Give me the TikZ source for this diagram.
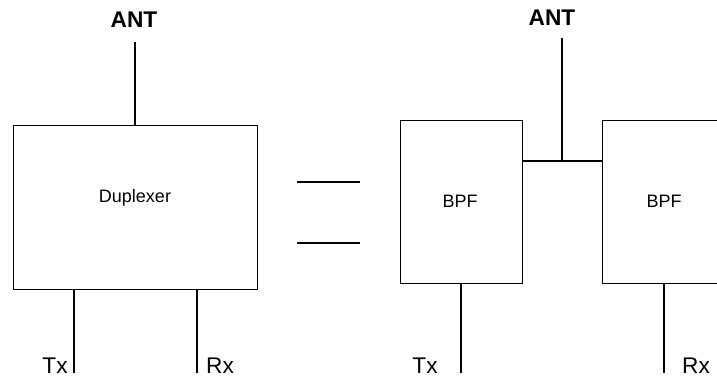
\documentclass[tikz,border=0pt]{standalone}
\usepackage{fontspec}
\setmainfont{Liberation Sans}
\begin{document}
\begin{tikzpicture}[x=0.75pt,y=-0.75pt,
  box/.style={draw, line width=0.7pt, inner sep=0pt},
  wire/.style={line width=1.1pt},
  lbl/.style={inner sep=0pt, anchor=base},
  big/.style={font=\fontsize{17}{19}\selectfont},
  ant/.style={font=\fontsize{17}{19}\selectfont\bfseries},
  small/.style={font=\fontsize{13.5}{15}\selectfont}]
\useasboundingbox (0,0) rectangle (717,380);
% left: duplexer
\node[box, minimum width=183pt, minimum height=123pt] (dup) at (135,207) {};
\node[lbl, small] (duplbl) at (135,202) {Duplexer};
\node[lbl, ant] (antL) at (134,27) {ANT};
\coordinate (antLend) at (135,42);
\draw[wire] (antLend) -- (dup.north);
\coordinate (txL) at (74,373);
\coordinate (rxL) at (197,373);
\draw[wire] (dup.south -| txL) -- (txL);
\draw[wire] (dup.south -| rxL) -- (rxL);
\node[lbl, big] (txLlbl) at (55,373) {Tx};
\node[lbl, big] (rxLlbl) at (220,373) {Rx};
% equals sign
\coordinate (e1a) at (297,182); \coordinate (e1b) at (360,182);
\coordinate (e2a) at (297,243); \coordinate (e2b) at (360,243);
\draw[wire] (e1a) -- (e1b);
\draw[wire] (e2a) -- (e2b);
% right: two BPFs
\node[box, minimum width=91.5pt, minimum height=122.25pt] (bpf1) at (461,201.5) {};
\node[box, minimum width=91.5pt, minimum height=122.25pt] (bpf2) at (663,201.5) {};
\node[lbl, small] (bpf1lbl) at (460,207) {BPF};
\node[lbl, small] (bpf2lbl) at (664,207) {BPF};
\node[lbl, ant] (antR) at (552,25) {ANT};
\coordinate (antRend) at (562,38);
\coordinate (jn) at (562,161);
\draw[wire] (bpf1.east |- jn) -- (bpf2.west |- jn);
\draw[wire] (antRend) -- (jn);
\coordinate (txR) at (461,373);
\coordinate (rxR) at (664,373);
\draw[wire] (bpf1.south -| txR) -- (txR);
\draw[wire] (bpf2.south -| rxR) -- (rxR);
\node[lbl, big] (txRlbl) at (425,373) {Tx};
\node[lbl, big] (rxRlbl) at (696,373) {Rx};
\end{tikzpicture}
\end{document}
